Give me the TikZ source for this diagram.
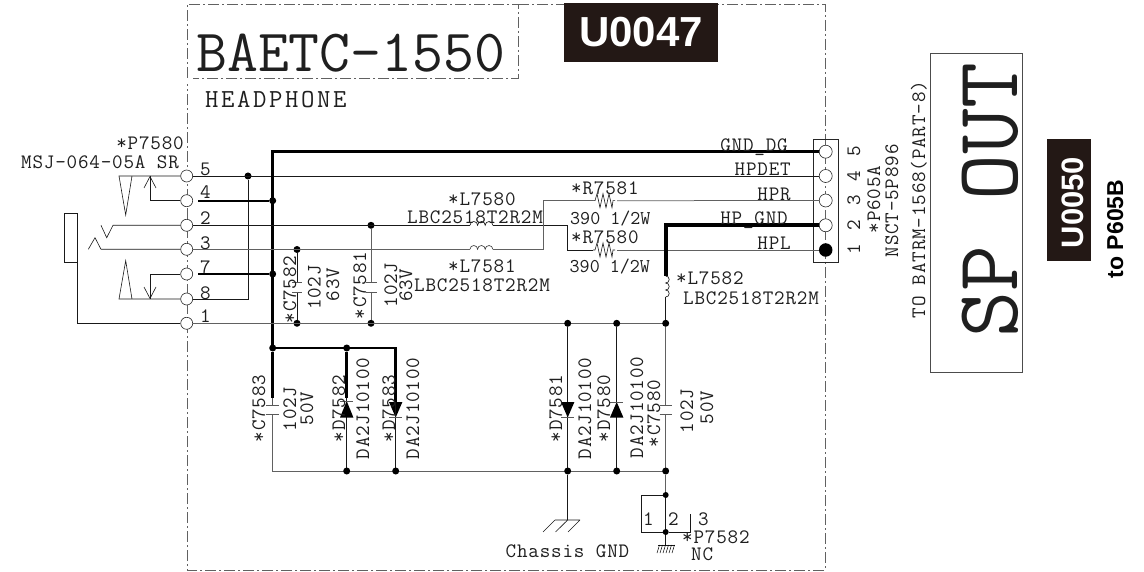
\documentclass[tikz,border=0pt]{standalone}
\usepackage{fontspec}
\setmainfont{Liberation Sans}
\newfontfamily\sch[LetterSpace=4]{Latin Modern Mono}
\newfontfamily\schb{Latin Modern Mono}
\newfontfamily\schc[LetterSpace=10]{Latin Modern Mono}
\definecolor{wireg}{gray}{0.38}
\definecolor{bannc}{HTML}{231815}
\tikzset{
 x=1pt,y=-1pt,
 wire/.style={line width=0.6pt,black!90},
 gwire/.style={line width=0.75pt,wireg},
 plate/.style={line width=.65pt,black!65},
 thick wire/.style={line width=2.7pt,black,line cap=butt,line join=miter},
 mid wire/.style={line width=2pt,black},
 heavy wire/.style={line width=4pt,black,line join=miter},
 dot/.style={circle,fill=black,inner sep=0,minimum size=7pt},
 pin/.style={circle,draw=black!85,fill=white,line width=0.6pt,inner sep=0,minimum size=12pt},
 lab/.style={inner sep=0,anchor=base west,font=\sch\fontsize{20.5}{20.5}\selectfont,text=black!88},
 labe/.style={lab,anchor=base east},
 labt/.style={lab,font=\schb\fontsize{19.5}{19.5}\selectfont},
 vlab/.style={lab,rotate=90},
 dash box/.style={line width=0.7pt,wireg,dash pattern=on 11pt off 3pt on 2pt off 3pt},
 bann/.style={fill=bannc,inner sep=0},
}
\begin{document}
\begin{tikzpicture}
\useasboundingbox (0,0) rectangle (1144,572);
\fill[white] (0,0) rectangle (1144,572);
% frame
\draw[dash box] (187,78) -- (187,4) -- (518,4) -- (518,78) -- (193,78);
\draw[dash box] (518,4) -- (825,4) -- (825,570) -- (187,570) -- (187,84);
% banners
\node[bann,minimum width=154pt,minimum height=59pt] (u47box) at (641,32.5) {};
\node[inner sep=0,anchor=base,text=white,font=\bfseries\fontsize{42}{42}\selectfont] (u47) at (641,46.5) {U0047};
\node[bann,minimum width=44pt,minimum height=122pt] (u50box) at (1069,200) {};
\node[inner sep=0,anchor=base,rotate=90,text=white,font=\bfseries\fontsize{31}{31}\selectfont] (u50) at (1083,202.5) {U0050};
\node[rotate=90,anchor=base,inner sep=0,font=\bfseries\fontsize{23}{23}\selectfont] (to) at (1123,229) {to P605B};
% titles
\node[lab,font=\schb\fontsize{60}{60}\selectfont] (t1) at (196,71.5) {BAETC-1550};
\node[lab,font=\schc\fontsize{26}{26}\selectfont] (t2) at (205,108) {HEADPHONE};
% SP OUT
\node[draw=black!70,line width=0.7pt,minimum width=92pt,minimum height=319pt,inner sep=0] (spbox) at (976,212.5) {};
\node[vlab,font=\schb\fontsize{89}{89}\selectfont] (sp) at (1017,338) {SP OUT};
% jack
\draw[wire] (64,213) rectangle (77,262);
% left pins
\node[pin] (p5) at (186.7,176) {};
\node[pin] (p4) at (186.7,200.7) {};
\node[pin] (p2) at (186.7,225.3) {};
\node[pin] (p3) at (186.7,249.3) {};
\node[pin] (p7) at (186.7,274) {};
\node[pin] (p8) at (186.7,299) {};
\node[pin] (p1) at (186.7,323.3) {};
\foreach \n/\y in {5/176,4/199,2/225,3/250,7/274,8/299,1/323}
  \node[lab] (n\n) at (200,\y) {\n};
% right connector
\node[draw=black!85,line width=0.7pt,minimum width=25pt,minimum height=123pt,inner sep=0] (conn) at (825.5,200.5) {};
\node[pin,minimum size=13pt] (r5) at (825.7,151.7) {};
\node[pin,minimum size=13pt] (r4) at (825.7,176) {};
\node[pin,minimum size=13pt] (r3) at (825.7,200.5) {};
\node[pin,minimum size=13pt] (r2) at (825.7,225.3) {};
\node[circle,fill=black,inner sep=0,minimum size=13.5pt] (r1) at (825.7,250) {};
\foreach \n/\y in {5/151,4/176,3/200,2/225,1/249}
  \node[lab,rotate=90,anchor=base] (m\n) at (860,\y) {\n};
% jack wire
\draw[wire] (77,262) -- (77,323.3) -- (p1);
% top contacts
\draw[wire] (p5) -- (119,176) -- (125.7,215) -- (132,176);
\draw[wire] (150,176) -- (150,200.7) -- (p4);
\draw[wire] (144,188) -- (150,176.5) -- (156,188);
% bottom contacts
\draw[wire] (p8) -- (119,299) -- (125.7,260.7) -- (132,299);
\draw[wire] (150,299) -- (150,274) -- (p7);
\draw[wire] (144,287) -- (150,298.5) -- (156,287);
% middle contacts
\draw[wire] (p2) -- (113,225.3) -- (106.7,237.7) -- (101,225.3);
\draw[wire] (p3) -- (101,249.3) -- (95,237.7) -- (88.3,249.3);
% main wires
\node[dot] (dj5) at (248,176) {};
\coordinate (j8) at (248,299);
\draw[wire] (dj5) -- (j8) -- (p8);
\draw[wire] (p5) -- (r4);
\draw[thick wire] (r5) -- (272.7,151.7) -- (272.7,348);
\node[dot] (d4) at (272.7,200.7) {};
\node[dot] (d7) at (272.7,274) {};
\node[dot] (d348) at (272.7,348) {};
\draw[mid wire] (198,200.7) -- (d4);
\draw[mid wire] (198,274) -- (d7);
\draw[thick wire] (d348) -- (395.7,348) -- (395.7,402);
\node[dot] (d346) at (346.7,348) {};
\draw[thick wire] (d346) -- (346.7,398);
% C7583
\draw[thick wire] (d348) -- (272.7,398);
\draw[gwire] (272.7,414) -- (272.7,471) -- (665.7,471);
\draw[plate] (266,405) -- (279,405) (266,414) -- (279,414) (272.7,398) -- (272.7,405);
% D7582
\draw[wire] (346.7,398) -- (346.7,471);
\fill (346.7,401) -- (340,417.5) -- (353.4,417.5) -- cycle;
\draw[plate] (340,401) -- (353.4,401);
\node[dot] (d582) at (346.7,471) {};
% D7583
\fill (389,402) -- (402.4,402) -- (395.7,417.5) -- cycle;
\draw[wire] (395.7,402) -- (395.7,471);
\draw[plate] (389,417.7) -- (402.4,417.7);
\node[dot] (d583) at (395.7,471) {};
% C7582 / C7581
\node[dot] (a1) at (297,249.5) {};
\node[dot] (a2) at (297,323.3) {};
\node[dot] (b1) at (371,225.3) {};
\node[dot] (b2) at (371,323.3) {};
\draw[wire] (a1) -- (297,282) (297,292) -- (a2);
\draw[plate] (292,282) -- (302,282) (292,292) -- (302,292);
\draw[gwire] (b1) -- (371,282) (371,292) -- (b2);
\draw[plate] (366,282) -- (377,282) (366,292) -- (377,292);
% signal wires
\draw[wire] (p2) -- (470,225.3);
\foreach \y/\c in {225.3/black!90,249.3/black!75}{
 \draw[\c,line width=.65pt] (470,\y) arc[start angle=180,end angle=0,radius=3.8pt] arc[start angle=180,end angle=0,radius=3.8pt] arc[start angle=180,end angle=0,radius=3.8pt];
}
\draw[wire] (493,225.3) -- (567.7,225.3) -- (567.7,250) -- (593,250);
\draw[gwire] (p3) -- (470,249.3);
\draw[gwire] (493,249.3) -- (543,249.3) -- (543,200.7) -- (593,200.7);
\foreach \y in {200.7,250}{
 \draw[line width=.6pt,black!90] (593,\y) -- ++(2,0) -- ++(2,-7) -- ++(3,14) -- ++(3,-14) -- ++(3,14) -- ++(3,-14) -- ++(3,14) -- ++(1,-7) -- ++(2,0);
}
\draw[gwire] (617,200.7) -- (r3);
\draw[gwire] (617,250) -- (r1);
\draw[heavy wire] (r2) -- (665.7,225.3) -- (665.7,276);
% L7582
\draw[line width=.65pt,black!90] (665.7,276) arc[start angle=90,end angle=-90,radius=3.5pt] arc[start angle=90,end angle=-90,radius=3.5pt] arc[start angle=90,end angle=-90,radius=3.5pt];
\draw[wire] (665.7,297) -- (665.7,323.3);
\draw[gwire] (p1) -- (665.7,323.3);
\node[dot] (e1) at (567.7,323.3) {};
\node[dot] (e2) at (616.7,323.3) {};
\node[dot] (e3) at (665.7,323.3) {};
% lower verticals
\draw[wire] (e1) -- (567.7,471);
\fill (561,402) -- (574.4,402) -- (567.7,417.5) -- cycle;
\draw[plate] (561,417.7) -- (574.4,417.7);
\draw[wire] (e2) -- (616.7,471);
\fill (616.7,402) -- (610,417.5) -- (623.4,417.5) -- cycle;
\draw[plate] (610,402) -- (623.4,402);
\draw[gwire] (e3) -- (665.7,405) (665.7,414) -- (665.7,471);
\draw[plate] (659.5,405) -- (672,405) (659.5,414) -- (672,414);
\node[dot] (f1) at (567.7,471) {};
\node[dot] (f2) at (616.7,471) {};
\node[dot] (f3) at (665.7,471) {};
% chassis ground
\coordinate (g) at (567.7,520);
\draw[wire] (f1) -- (g);
\draw[wire] (555,520) -- (580,520) (555,520) -- (543,532) (567.7,520) -- (555.5,532) (580,520) -- (568,532);
\node[lab] (cg) at (505.5,557) {Chassis GND};
% P7582
\node[dot,minimum size=6pt] (h1) at (665.7,495) {};
\node[dot,minimum size=6pt] (h2) at (665.7,532) {};
\draw[gwire] (f3) -- (h1);
\draw[wire] (h1) -- (641.7,495) -- (641.7,532) -- (h2);
\draw[wire] (h1) -- (h2) -- (690,532) -- (690,514);
\draw[wire] (h2) -- (665.7,545);
\draw[wire] (658,545) -- (675,545);
\foreach \x in {659.5,662.5,665.5,668.5,671.5,674.5} \draw[line width=.5pt] (\x,545) -- (\x-2.5,553);
\node[lab] (q1) at (643,525) {1};
\node[lab] (q2) at (668,525) {2};
\node[lab] (q3) at (698,525) {3};
\node[lab] (q4) at (682,543) {*P7582};
\node[lab] (q5) at (691,560) {NC};
% labels
\node[labe] (l1) at (184,150) {*P7580};
\node[lab] (l2) at (21,169) {MSJ-064-05A SR};
\node[labe] (g1) at (788,152) {GND\_DG};
\node[labe] (g2) at (791,176) {HPDET};
\node[labe] (g3) at (791,200.7) {HPR};
\node[labe] (g4) at (788,225) {HP\_GND};
\node[labe] (g5) at (791,250) {HPL};
\node[lab] (k1) at (448,206) {*L7580};
\node[lab] (k2) at (407,224) {LBC2518T2R2M};
\node[lab] (k3) at (448,273) {*L7581};
\node[lab] (k4) at (414,291) {LBC2518T2R2M};
\node[lab] (k5) at (571,195) {*R7581};
\node[labt] (k6) at (570,225) {390 1/2W};
\node[lab] (k7) at (571,244) {*R7580};
\node[labt] (k8) at (569.5,273) {390 1/2W};
\node[lab] (k9) at (676,285) {*L7582};
\node[lab] (k10) at (683,305) {LBC2518T2R2M};
% vertical labels
\node[vlab] (v1) at (296,323.5) {*C7582};
\node[vlab] (v2) at (320.5,310) {102J};
\node[vlab] (v3) at (339,301.5) {63V};
\node[vlab] (v4) at (366,319.5) {*C7581};
\node[vlab] (v5) at (397,307.5) {102J};
\node[vlab] (v6) at (412,302) {63V};
\node[vlab] (v7) at (265,442.5) {*C7583};
\node[vlab] (v8) at (296,431.5) {102J};
\node[vlab] (v9) at (313,425.5) {50V};
\node[vlab] (v10) at (345,442.5) {*D7582};
\node[vlab] (v11) at (369,459.5) {DA2J10100};
\node[vlab] (v12) at (395,442.5) {*D7583};
\node[vlab] (v13) at (419,459.5) {DA2J10100};
\node[vlab] (v14) at (562,442.5) {*D7581};
\node[vlab] (v15) at (591,459.5) {DA2J10100};
\node[vlab] (v16) at (610,442.5) {*D7580};
\node[vlab] (v17) at (643,458.5) {DA2J10100};
\node[vlab] (v18) at (660,447.5) {*C7580};
\node[vlab] (v19) at (693,433.5) {102J};
\node[vlab] (v20) at (713,424.5) {50V};
\node[vlab] (v21) at (880,233.5) {*P605A};
\node[vlab] (v24) at (898,257.5) {NSCT-5P896};
\node[vlab] (v25) at (925,318.5) {TO BATRM-1568(PART-8)};
\end{tikzpicture}
\end{document}
